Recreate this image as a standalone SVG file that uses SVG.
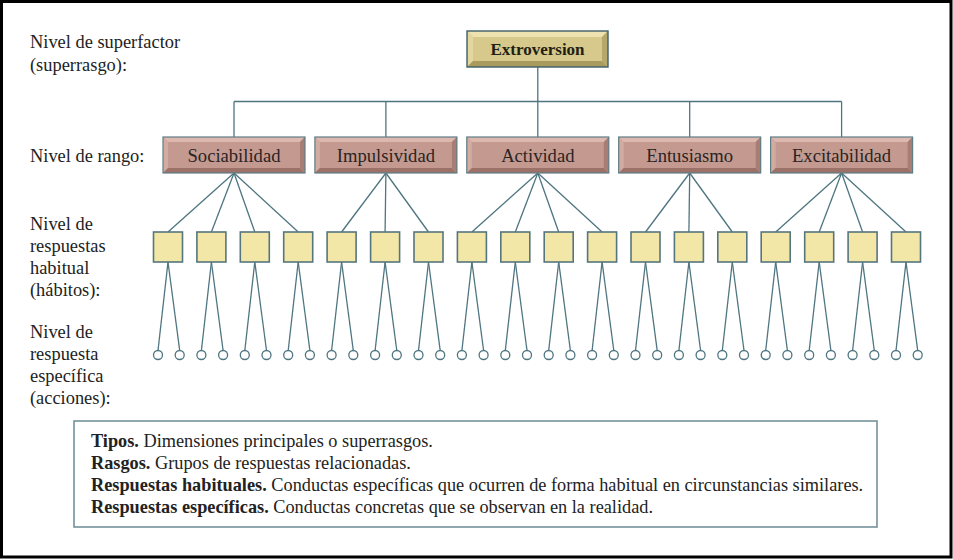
<svg xmlns="http://www.w3.org/2000/svg" xmlns:xlink="http://www.w3.org/1999/xlink" width="953" height="560" viewBox="0 0 953 560">
<style>
.lbl{font-family:"Liberation Serif","DejaVu Serif",serif;font-size:18.4px;fill:#222;}
.leg{font-family:"Liberation Serif","DejaVu Serif",serif;font-size:18.3px;fill:#222;}
.box{font-family:"Liberation Serif","DejaVu Serif",serif;font-size:18.6px;fill:#2a2424;text-anchor:middle;}
.ext{font-family:"Liberation Serif","DejaVu Serif",serif;font-size:17px;font-weight:bold;fill:#221e14;text-anchor:middle;}
.bold{font-weight:bold;}
.conn line{stroke:#4e7580;stroke-width:1.3;fill:none;}
.sq{fill:#f3e7a7;stroke:#56767f;stroke-width:1.6;}
.ci{fill:#fff;stroke:#4e7580;stroke-width:1.3;}
</style>
<defs>
<g id="pinkBox">
<rect x="0" y="0" width="142" height="36" fill="#c49a90"/>
<polygon points="0,0 142,0 137,5 5,5" fill="#dcb8ae"/>
<polygon points="0,0 5,5 5,31 0,36" fill="#d2aba1"/>
<polygon points="0,36 5,31 137,31 142,36" fill="#9c7167"/>
<polygon points="142,0 142,36 137,31 137,5" fill="#a87d73"/>
<rect x="0" y="0" width="142" height="36" fill="none" stroke="#5f7d85" stroke-width="1.2"/>
</g>
<g id="goldBox">
<rect x="0" y="0" width="141" height="36" fill="#d6c98b"/>
<polygon points="0,0 141,0 135,6 6,6" fill="#ede2b0"/>
<polygon points="0,0 6,6 6,30 0,36" fill="#e3d69e"/>
<polygon points="0,36 6,30 135,30 141,36" fill="#a99b5d"/>
<polygon points="141,0 141,36 135,30 135,6" fill="#b6a86a"/>
<rect x="0" y="0" width="141" height="36" fill="none" stroke="#3e5f68" stroke-width="1.4"/>
</g>
</defs>
<rect x="0" y="0" width="953" height="560" fill="#fff"/>
<rect x="1.5" y="1.5" width="949.5" height="555.5" fill="none" stroke="#000" stroke-width="3"/>

<g id="levels">
<text class="lbl" x="30" y="48">Nivel de superfactor</text>
<text class="lbl" x="30" y="71">(superrasgo):</text>
<text class="lbl" x="30" y="162">Nivel de rango:</text>
<text class="lbl" x="30" y="230">Nivel de</text>
<text class="lbl" x="30" y="252">respuestas</text>
<text class="lbl" x="30" y="274">habitual</text>
<text class="lbl" x="30" y="296">(hábitos):</text>
<text class="lbl" x="30" y="338">Nivel de</text>
<text class="lbl" x="30" y="360">respuesta</text>
<text class="lbl" x="30" y="382">específica</text>
<text class="lbl" x="30" y="404">(acciones):</text>
</g>

<g id="connectors" class="conn">
<line x1="537.8" y1="67" x2="537.8" y2="101.5"/>
<line x1="234" y1="101.5" x2="841.6" y2="101.5"/>
<line x1="234" y1="101.5" x2="234" y2="137"/>
<line x1="385.9" y1="101.5" x2="385.9" y2="137"/>
<line x1="537.8" y1="101.5" x2="537.8" y2="137"/>
<line x1="689.7" y1="101.5" x2="689.7" y2="137"/>
<line x1="841.6" y1="101.5" x2="841.6" y2="137"/>
<line x1="234" y1="173" x2="168" y2="232"/>
<line x1="234" y1="173" x2="211.4" y2="232"/>
<line x1="234" y1="173" x2="254.8" y2="232"/>
<line x1="234" y1="173" x2="298.2" y2="232"/>
<line x1="385.9" y1="173" x2="341.6" y2="232"/>
<line x1="385.9" y1="173" x2="385.1" y2="232"/>
<line x1="385.9" y1="173" x2="428.5" y2="232"/>
<line x1="537.8" y1="173" x2="471.9" y2="232"/>
<line x1="537.8" y1="173" x2="515.3" y2="232"/>
<line x1="537.8" y1="173" x2="558.7" y2="232"/>
<line x1="537.8" y1="173" x2="602.1" y2="232"/>
<line x1="689.7" y1="173" x2="645.5" y2="232"/>
<line x1="689.7" y1="173" x2="688.9" y2="232"/>
<line x1="689.7" y1="173" x2="732.3" y2="232"/>
<line x1="841.6" y1="173" x2="775.7" y2="232"/>
<line x1="841.6" y1="173" x2="819.2" y2="232"/>
<line x1="841.6" y1="173" x2="862.6" y2="232"/>
<line x1="841.6" y1="173" x2="906" y2="232"/>
<line x1="168" y1="262" x2="158" y2="350.5"/><line x1="168" y1="262" x2="179.7" y2="350.5"/>
<line x1="211.4" y1="262" x2="201.4" y2="350.5"/><line x1="211.4" y1="262" x2="223.1" y2="350.5"/>
<line x1="254.8" y1="262" x2="244.8" y2="350.5"/><line x1="254.8" y1="262" x2="266.5" y2="350.5"/>
<line x1="298.2" y1="262" x2="288.2" y2="350.5"/><line x1="298.2" y1="262" x2="309.9" y2="350.5"/>
<line x1="341.6" y1="262" x2="331.6" y2="350.5"/><line x1="341.6" y1="262" x2="353.3" y2="350.5"/>
<line x1="385.1" y1="262" x2="375.1" y2="350.5"/><line x1="385.1" y1="262" x2="396.8" y2="350.5"/>
<line x1="428.5" y1="262" x2="418.5" y2="350.5"/><line x1="428.5" y1="262" x2="440.2" y2="350.5"/>
<line x1="471.9" y1="262" x2="461.9" y2="350.5"/><line x1="471.9" y1="262" x2="483.6" y2="350.5"/>
<line x1="515.3" y1="262" x2="505.3" y2="350.5"/><line x1="515.3" y1="262" x2="527" y2="350.5"/>
<line x1="558.7" y1="262" x2="548.7" y2="350.5"/><line x1="558.7" y1="262" x2="570.4" y2="350.5"/>
<line x1="602.1" y1="262" x2="592.1" y2="350.5"/><line x1="602.1" y1="262" x2="613.8" y2="350.5"/>
<line x1="645.5" y1="262" x2="635.5" y2="350.5"/><line x1="645.5" y1="262" x2="657.2" y2="350.5"/>
<line x1="688.9" y1="262" x2="678.9" y2="350.5"/><line x1="688.9" y1="262" x2="700.6" y2="350.5"/>
<line x1="732.3" y1="262" x2="722.3" y2="350.5"/><line x1="732.3" y1="262" x2="744" y2="350.5"/>
<line x1="775.7" y1="262" x2="765.7" y2="350.5"/><line x1="775.7" y1="262" x2="787.4" y2="350.5"/>
<line x1="819.2" y1="262" x2="809.2" y2="350.5"/><line x1="819.2" y1="262" x2="830.9" y2="350.5"/>
<line x1="862.6" y1="262" x2="852.6" y2="350.5"/><line x1="862.6" y1="262" x2="874.3" y2="350.5"/>
<line x1="906" y1="262" x2="896" y2="350.5"/><line x1="906" y1="262" x2="917.7" y2="350.5"/>
</g>

<g id="extroversion">
<use xlink:href="#goldBox" x="467" y="31"/>
<text class="ext" x="537.5" y="55">Extroversion</text>
</g>
<g id="sociabilidad">
<use xlink:href="#pinkBox" x="163" y="137"/>
<text class="box" x="234" y="162">Sociabilidad</text>
</g>
<g id="impulsividad">
<use xlink:href="#pinkBox" x="314.9" y="137"/>
<text class="box" x="385.9" y="162">Impulsividad</text>
</g>
<g id="actividad">
<use xlink:href="#pinkBox" x="466.8" y="137"/>
<text class="box" x="537.8" y="162">Actividad</text>
</g>
<g id="entusiasmo">
<use xlink:href="#pinkBox" x="618.7" y="137"/>
<text class="box" x="689.7" y="162">Entusiasmo</text>
</g>
<g id="excitabilidad">
<use xlink:href="#pinkBox" x="770.6" y="137"/>
<text class="box" x="841.6" y="162">Excitabilidad</text>
</g>

<g id="habits">
<rect class="sq" x="153.5" y="232" width="29" height="30"/>
<rect class="sq" x="196.9" y="232" width="29" height="30"/>
<rect class="sq" x="240.3" y="232" width="29" height="30"/>
<rect class="sq" x="283.7" y="232" width="29" height="30"/>
<rect class="sq" x="327.1" y="232" width="29" height="30"/>
<rect class="sq" x="370.6" y="232" width="29" height="30"/>
<rect class="sq" x="414" y="232" width="29" height="30"/>
<rect class="sq" x="457.4" y="232" width="29" height="30"/>
<rect class="sq" x="500.8" y="232" width="29" height="30"/>
<rect class="sq" x="544.2" y="232" width="29" height="30"/>
<rect class="sq" x="587.6" y="232" width="29" height="30"/>
<rect class="sq" x="631" y="232" width="29" height="30"/>
<rect class="sq" x="674.4" y="232" width="29" height="30"/>
<rect class="sq" x="717.8" y="232" width="29" height="30"/>
<rect class="sq" x="761.2" y="232" width="29" height="30"/>
<rect class="sq" x="804.7" y="232" width="29" height="30"/>
<rect class="sq" x="848.1" y="232" width="29" height="30"/>
<rect class="sq" x="891.5" y="232" width="29" height="30"/>
</g>

<g id="actions">
<circle class="ci" cx="158" cy="355" r="4.5"/><circle class="ci" cx="179.7" cy="355" r="4.5"/>
<circle class="ci" cx="201.4" cy="355" r="4.5"/><circle class="ci" cx="223.1" cy="355" r="4.5"/>
<circle class="ci" cx="244.8" cy="355" r="4.5"/><circle class="ci" cx="266.5" cy="355" r="4.5"/>
<circle class="ci" cx="288.2" cy="355" r="4.5"/><circle class="ci" cx="309.9" cy="355" r="4.5"/>
<circle class="ci" cx="331.6" cy="355" r="4.5"/><circle class="ci" cx="353.3" cy="355" r="4.5"/>
<circle class="ci" cx="375.1" cy="355" r="4.5"/><circle class="ci" cx="396.8" cy="355" r="4.5"/>
<circle class="ci" cx="418.5" cy="355" r="4.5"/><circle class="ci" cx="440.2" cy="355" r="4.5"/>
<circle class="ci" cx="461.9" cy="355" r="4.5"/><circle class="ci" cx="483.6" cy="355" r="4.5"/>
<circle class="ci" cx="505.3" cy="355" r="4.5"/><circle class="ci" cx="527" cy="355" r="4.5"/>
<circle class="ci" cx="548.7" cy="355" r="4.5"/><circle class="ci" cx="570.4" cy="355" r="4.5"/>
<circle class="ci" cx="592.1" cy="355" r="4.5"/><circle class="ci" cx="613.8" cy="355" r="4.5"/>
<circle class="ci" cx="635.5" cy="355" r="4.5"/><circle class="ci" cx="657.2" cy="355" r="4.5"/>
<circle class="ci" cx="678.9" cy="355" r="4.5"/><circle class="ci" cx="700.6" cy="355" r="4.5"/>
<circle class="ci" cx="722.3" cy="355" r="4.5"/><circle class="ci" cx="744" cy="355" r="4.5"/>
<circle class="ci" cx="765.7" cy="355" r="4.5"/><circle class="ci" cx="787.4" cy="355" r="4.5"/>
<circle class="ci" cx="809.2" cy="355" r="4.5"/><circle class="ci" cx="830.9" cy="355" r="4.5"/>
<circle class="ci" cx="852.6" cy="355" r="4.5"/><circle class="ci" cx="874.3" cy="355" r="4.5"/>
<circle class="ci" cx="896" cy="355" r="4.5"/><circle class="ci" cx="917.7" cy="355" r="4.5"/>
</g>

<g id="legend">
<rect x="74" y="421" width="803" height="106" fill="#fff" stroke="#6b8a94" stroke-width="1.5"/>
<text class="leg" x="91" y="447"><tspan class="bold">Tipos.</tspan> Dimensiones principales o superrasgos.</text>
<text class="leg" x="91" y="469"><tspan class="bold">Rasgos.</tspan> Grupos de respuestas relacionadas.</text>
<text class="leg" x="91" y="491"><tspan class="bold">Respuestas habituales.</tspan> Conductas específicas que ocurren de forma habitual en circunstancias similares.</text>
<text class="leg" x="91" y="513"><tspan class="bold">Respuestas específicas.</tspan> Conductas concretas que se observan en la realidad.</text>
</g>
</svg>
